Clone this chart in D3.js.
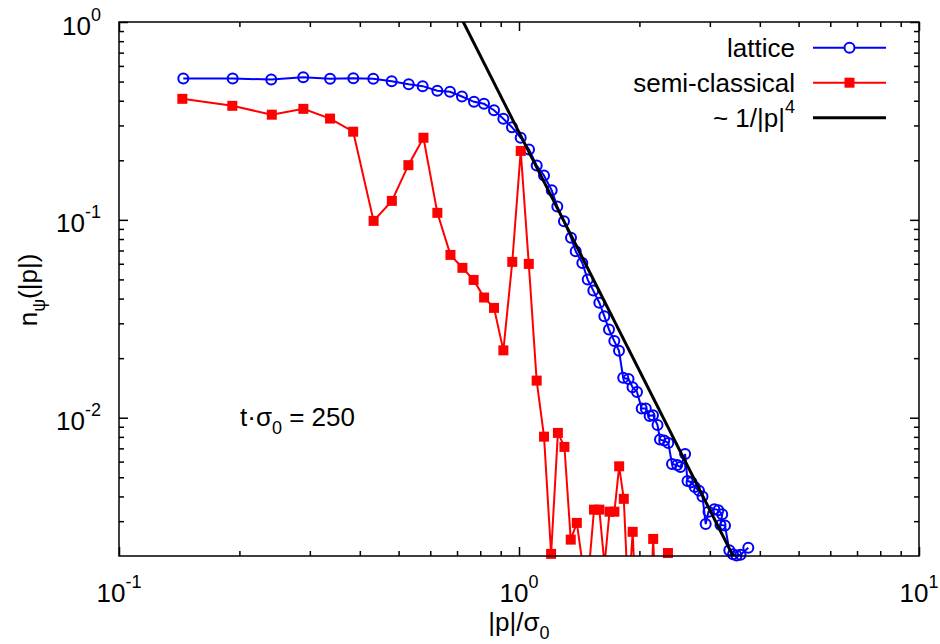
<!DOCTYPE html>
<html>
<head>
  <meta charset="utf-8">
  <title>n_psi(|p|) at t*sigma0 = 250</title>
  <script src="https://d3js.org/d3.v7.min.js"></script>
  <style>
    body { margin: 0; background: #fff; }
    svg text { font-family: "Liberation Sans", Arial, Helvetica, sans-serif; fill: #000; }
    .tick line { stroke: #000; stroke-width: 1.5; }
  </style>
</head>
<body>
  <svg id="chart" width="940" height="644"></svg>

  <script>
    // lattice data: |p|/sigma0 and n_psi
    const latticeP = [0.1448, 0.1924, 0.2402, 0.2888, 0.3370, 0.3853, 0.4322, 0.4805, 0.5300, 0.5743,
      0.6249, 0.6721, 0.7201, 0.7717, 0.8175, 0.8660, 0.9137, 0.9605, 1.0098, 1.0593,
      1.1073, 1.1548, 1.2072, 1.2467, 1.2955, 1.3490, 1.3860, 1.4397, 1.4852, 1.5339,
      1.5878, 1.6342, 1.6788, 1.7308, 1.7783, 1.8218, 1.8783, 1.9220, 1.9724, 2.0265,
      2.0749, 2.1208, 2.1627, 2.2195, 2.2517, 2.3067, 2.3618, 2.4127, 2.4860, 2.5322,
      2.6017, 2.6379, 2.6994, 2.7496, 2.8184, 2.8757, 2.9292, 2.9768, 3.0779, 3.1495,
      3.2211, 3.1897, 3.2734, 3.3554, 3.4277, 3.4975, 3.5790, 3.7434];
    const latticeN = [0.518, 0.518, 0.512, 0.526, 0.516, 0.520, 0.516, 0.502, 0.485, 0.474,
      0.449, 0.444, 0.420, 0.395, 0.386, 0.358, 0.324, 0.294, 0.260, 0.227,
      0.188, 0.1675, 0.141, 0.1167, 0.0984, 0.0813, 0.0694, 0.0606, 0.0499, 0.0439,
      0.0381, 0.0326, 0.0279, 0.0244, 0.0218, 0.0159, 0.0157, 0.01425, 0.0135, 0.01114,
      0.01112, 0.01021, 0.0103, 0.00918, 0.00775, 0.00766, 0.00746, 0.00584, 0.00576, 0.00563,
      0.00655, 0.00479, 0.00472, 0.00447, 0.00428, 0.0040, 0.0029, 0.00335, 0.00345, 0.00341,
      0.00325, 0.00287, 0.00285, 0.00214, 0.00204, 0.00201, 0.00203, 0.0022];

    // semi-classical data (values under the y range only show as clipped line segments)
    const semiP = [0.144, 0.192, 0.241, 0.289, 0.337, 0.385, 0.433, 0.481, 0.529, 0.577,
      0.625, 0.674, 0.722, 0.770, 0.818, 0.866, 0.914, 0.962, 1.010, 1.058,
      1.107, 1.155, 1.203, 1.251, 1.299, 1.347, 1.395, 1.443, 1.491, 1.540,
      1.588, 1.636, 1.684, 1.732, 1.780, 1.828, 1.876, 1.924, 1.973, 2.021,
      2.069, 2.117, 2.165, 2.213, 2.261, 2.309, 2.357, 2.405];
    const semiN = [0.409, 0.377, 0.340, 0.364, 0.325, 0.279, 0.0988, 0.1247, 0.189, 0.260,
      0.1085, 0.0665, 0.0572, 0.0497, 0.0405, 0.0359, 0.0219, 0.0613, 0.223, 0.0599,
      0.0154, 0.00802, 0.00205, 0.00838, 0.00712, 0.00242, 0.00294, 0.0018, 0.0016, 0.00343,
      0.00343, 0.0018, 0.00335, 0.00335, 0.00568, 0.00389, 0.0012, 0.00265, 0.0008, 0.0006,
      0.0006, 0.0008, 0.00244, 0.0008, 0.0006, 0.0009, 0.00207, 0.0009];

    // ~ 1/|p|^4 guide line, two end points
    const fitP = [0.6, 4.0];
    const fitN = [2.14, 0.00108];

    // axis ticks
    const xMajor = [0.1, 1, 10];
    const xMajorLabels = [["10", "-1"], ["10", "0"], ["10", "1"]];
    const yMajor = [0.01, 0.1, 1];
    const yMajorLabels = [["10", "-2"], ["10", "-1"], ["10", "0"]];

    const svg = d3.select("#chart");
    const m = { left: 119, right: 919, top: 22, bottom: 556 };
    const fs = 26, fsSmall = 18;

    const x = d3.scaleLog().domain([0.1, 10]).range([m.left, m.right]);
    const y = d3.scaleLog().domain([0.002, 1]).range([m.bottom, m.top]);

    const xMinor = x.ticks().filter(v => !xMajor.some(t => Math.abs(t - v) < 1e-9));
    const yMinor = y.ticks().filter(v => !yMajor.some(t => Math.abs(t - v) < 1e-9) && v > 0.002);

    svg.append("defs").append("clipPath").attr("id", "clip")
      .append("rect")
      .attr("x", m.left).attr("y", m.top)
      .attr("width", m.right - m.left).attr("height", m.bottom - m.top);

    // ticks on all four sides, pointing inwards
    function ticks(axis, vals, size, transform) {
      svg.append("g")
        .attr("transform", transform)
        .call(axis.tickValues(vals).tickSize(-size).tickFormat(""))
        .call(g => g.select(".domain").remove());
    }
    [[xMajor, 9], [xMinor, 5]].forEach(([vals, s]) => {
      ticks(d3.axisBottom(x), vals, s, `translate(0,${m.bottom})`);
      ticks(d3.axisTop(x), vals, s, `translate(0,${m.top})`);
    });
    [[yMajor, 9], [yMinor, 5]].forEach(([vals, s]) => {
      ticks(d3.axisLeft(y), vals, s, `translate(${m.left},0)`);
      ticks(d3.axisRight(y), vals, s, `translate(${m.right},0)`);
    });

    // tick labels with superscript exponents
    xMajor.forEach((v, i) => {
      const t = svg.append("text")
        .attr("x", x(v)).attr("y", 602)
        .attr("text-anchor", "middle")
        .attr("font-size", fs)
        .text(xMajorLabels[i][0]);
      t.append("tspan").attr("dy", -14).attr("font-size", fsSmall).text(xMajorLabels[i][1]);
    });
    yMajor.forEach((v, i) => {
      const t = svg.append("text")
        .attr("x", 101).attr("y", y(v) + 12.5)
        .attr("text-anchor", "end")
        .attr("font-size", fs)
        .text(yMajorLabels[i][0]);
      t.append("tspan").attr("dy", -14).attr("font-size", fsSmall).text(yMajorLabels[i][1]);
    });

    // axis titles
    const xt = svg.append("text")
      .attr("x", 519).attr("y", 631)
      .attr("text-anchor", "middle")
      .attr("font-size", fs)
      .text("|p|/σ");
    xt.append("tspan").attr("dy", 8).attr("font-size", fsSmall).text("0");

    const yt = svg.append("text")
      .attr("transform", "translate(37,290) rotate(-90)")
      .attr("text-anchor", "middle")
      .attr("font-size", fs)
      .text("n");
    yt.append("tspan").attr("dy", 8).attr("font-size", fsSmall).text("ψ");
    yt.append("tspan").attr("dy", -8).text("(|p|)");

    const lbl = svg.append("text")
      .attr("x", 240).attr("y", 426)
      .attr("font-size", fs)
      .text("t·σ");
    lbl.append("tspan").attr("dy", 8).attr("font-size", fsSmall).text("0");
    lbl.append("tspan").attr("dy", -8).text(" = 250");

    // series
    const lattice = latticeP.map((p, i) => ({ p, n: latticeN[i] }));
    const semi = semiP.map((p, i) => ({ p, n: semiN[i] }));
    const fit = fitP.map((p, i) => ({ p, n: fitN[i] }));
    const inRange = d => d.n >= 0.002 && d.n <= 1;

    const line = d3.line().x(d => x(d.p)).y(d => y(d.n));
    const plot = svg.append("g");

    plot.append("path").datum(lattice)
      .attr("clip-path", "url(#clip)")
      .attr("d", line).attr("fill", "none")
      .attr("stroke", "#0000ff").attr("stroke-width", 2);
    plot.selectAll(".lat").data(lattice.filter(inRange)).enter()
      .append("circle").attr("class", "lat")
      .attr("cx", d => x(d.p)).attr("cy", d => y(d.n)).attr("r", 5)
      .attr("fill", "none").attr("stroke", "#0000ff").attr("stroke-width", 2);

    plot.append("path").datum(semi)
      .attr("clip-path", "url(#clip)")
      .attr("d", line).attr("fill", "none")
      .attr("stroke", "#ff0000").attr("stroke-width", 2);
    plot.selectAll(".semi").data(semi.filter(inRange)).enter()
      .append("rect").attr("class", "semi")
      .attr("x", d => x(d.p) - 5).attr("y", d => y(d.n) - 5)
      .attr("width", 10).attr("height", 10)
      .attr("fill", "#ff0000");

    plot.append("path").datum(fit)
      .attr("clip-path", "url(#clip)")
      .attr("d", line).attr("fill", "none")
      .attr("stroke", "#000").attr("stroke-width", 3);

    // border
    svg.append("rect")
      .attr("x", m.left).attr("y", m.top)
      .attr("width", m.right - m.left).attr("height", m.bottom - m.top)
      .attr("fill", "none").attr("stroke", "#000").attr("stroke-width", 1.5);

    // legend
    const legend = [
      { label: "lattice", color: "#0000ff", mark: "circle", w: 2 },
      { label: "semi-classical", color: "#ff0000", mark: "square", w: 2 },
      { label: "~ 1/|p|", sup: "4", color: "#000", mark: null, w: 3 }
    ];
    legend.forEach((d, i) => {
      const cy = 47.7 + i * 35;
      const t = svg.append("text")
        .attr("x", 795).attr("y", cy + 9.3)
        .attr("text-anchor", "end")
        .attr("font-size", fs)
        .text(d.label);
      if (d.sup) t.append("tspan").attr("dy", -14).attr("font-size", fsSmall).text(d.sup);
      svg.append("line")
        .attr("x1", 813).attr("x2", 886).attr("y1", cy).attr("y2", cy)
        .attr("stroke", d.color).attr("stroke-width", d.w);
      if (d.mark === "circle") {
        svg.append("circle").attr("cx", 849.5).attr("cy", cy).attr("r", 5)
          .attr("fill", "#fff").attr("stroke", d.color).attr("stroke-width", 2);
      } else if (d.mark === "square") {
        svg.append("rect").attr("x", 844.5).attr("y", cy - 5)
          .attr("width", 10).attr("height", 10).attr("fill", d.color);
      }
    });
  </script>
</body>
</html>
